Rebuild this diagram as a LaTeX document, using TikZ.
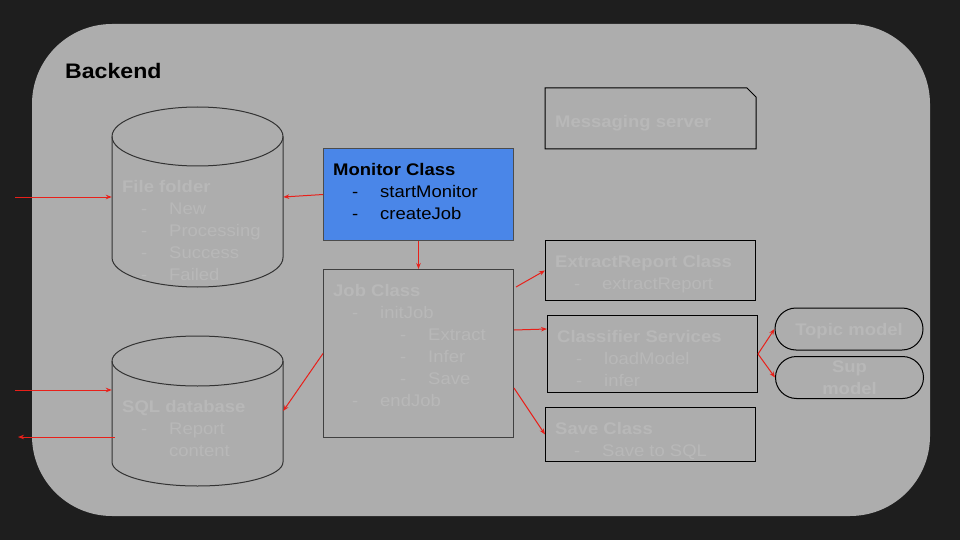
\documentclass[tikz,border=0pt]{standalone}
\usepackage{fontspec}
\setmainfont[FakeStretch=1.1]{Liberation Sans}
\usetikzlibrary{arrows.meta,calc}

\definecolor{slidebg}{HTML}{1E1E1E}
\definecolor{panel}{HTML}{ADADAD}
\definecolor{faint}{HTML}{B8B8B8}
\definecolor{monblue}{HTML}{4A86E8}
\definecolor{wirered}{HTML}{E8201A}

\newcommand{\bul}[1]{\hspace*{19pt}\makebox[28pt][l]{-}#1}
\newcommand{\subbul}[1]{\hspace*{67pt}\makebox[28pt][l]{-}#1}

\tikzset{
  box/.style={draw=black, line width=1pt, fill=panel, anchor=north west, inner sep=0pt},
  txt/.style={anchor=north west, inner sep=0pt, align=left, text=faint,
    font=\fontsize{16.8}{22}\selectfont},
  pill/.style={draw=black, line width=1pt, fill=panel, rounded corners=21pt,
    minimum width=148pt, minimum height=42pt, inner sep=0pt, align=center,
    text=faint, font=\bfseries\fontsize{16.8}{21.5}\selectfont},
  drum/.style={draw=black!80, line width=1pt, fill=panel},
  wire/.style={draw=wirered, line width=1pt, -{Stealth[length=6pt,width=4.5pt]}}
}

\begin{document}
\begin{tikzpicture}[x=1pt,y=-1pt]
  \useasboundingbox (0,0) rectangle (960,540);
  \fill[slidebg] (0,0) rectangle (960,540);
  \fill[panel, rounded corners=80pt] (32,24) rectangle (930,516);

  \node[anchor=north west, inner sep=0pt, font=\bfseries\fontsize{21}{24}\selectfont] (backend) at (65,63.3) {Backend};

  % storage
  \node[inner sep=0pt, minimum width=171pt, minimum height=180pt] (folder) at (197.5,197) {};
  \filldraw[drum] (112,136.5) -- (112,257.5) arc[start angle=180, end angle=0, x radius=85.5, y radius=29.5]
    -- (283,136.5) arc[start angle=0, end angle=-180, x radius=85.5, y radius=29.5] -- cycle;
  \draw[drum, fill=none] (112,136.5) arc[start angle=180, end angle=0, x radius=85.5, y radius=29.5];
  \node[txt] (foldertext) at (122,180.6) {\textbf{File folder}\\ \bul{New}\\ \bul{Processing}\\ \bul{Success}\\ \bul{Failed}};

  \node[inner sep=0pt, minimum width=171pt, minimum height=150pt] (sql) at (197.5,411) {};
  \filldraw[drum] (112,361) -- (112,462) arc[start angle=180, end angle=0, x radius=85.5, y radius=24]
    -- (283,361) arc[start angle=0, end angle=-180, x radius=85.5, y radius=25] -- cycle;
  \draw[drum, fill=none] (112,361) arc[start angle=180, end angle=0, x radius=85.5, y radius=25];
  \node[txt] (sqltext) at (122,400.6) {\textbf{SQL database}\\ \bul{Report}\\ \hspace*{47pt}content};

  % classes
  \node[box, fill=monblue, draw=black!70, minimum width=190pt, minimum height=92pt] (monitor) at (323,148) {};
  \node[txt, text=black] (monitortext) at ($(monitor.north west)+(10,15.5)$)
    {\textbf{Monitor Class}\\ \bul{startMonitor}\\ \bul{createJob}};

  \node[box, draw=black!75, minimum width=190pt, minimum height=168pt] (job) at (323,269) {};
  \node[txt] (jobtext) at ($(job.north west)+(10,15.5)$)
    {\textbf{Job Class}\\ \bul{initJob}\\ \subbul{Extract}\\ \subbul{Infer}\\ \subbul{Save}\\ \bul{endJob}};

  \node[box, draw=none, minimum width=210pt, minimum height=60pt] (msg) at (545,88) {};
  \draw[line width=1pt] (msg.north west) -- ($(msg.north east)+(-9,0)$) -- ($(msg.north east)+(0,9)$)
    -- (msg.south east) -- (msg.south west) -- cycle;
  \node[txt, font=\bfseries\fontsize{16.8}{22}\selectfont] (msgtext) at ($(msg.north west)+(10,27.6)$) {Messaging server};

  \node[box, minimum width=210pt, minimum height=60pt] (extract) at (545,240) {};
  \node[txt] (extracttext) at ($(extract.north west)+(10,15.5)$)
    {\textbf{ExtractReport Class}\\ \bul{extractReport}};

  \node[box, minimum width=210pt, minimum height=77pt] (classifier) at (547,315) {};
  \node[txt] (classifiertext) at ($(classifier.north west)+(10,15.5)$)
    {\textbf{Classifier Services}\\ \bul{loadModel}\\ \bul{infer}};

  \node[box, minimum width=210pt, minimum height=54pt] (save) at (545,407) {};
  \node[txt] (savetext) at ($(save.north west)+(10,15.5)$)
    {\textbf{Save Class}\\ \bul{Save to SQL}};

  \node[pill, text height=12pt, text depth=0pt] (topic) at (849,329) {Topic model};
  \node[pill] (sup) at (849.5,377.5) {Sup\\ model};

  % connectors
  \coordinate (in1) at (15,197);
  \coordinate (in2) at (15,390);
  \coordinate (out) at (18,437);

  \draw[wire] (in1) -- (folder.west);
  \draw[wire] (monitor.west) -- (folder.east);
  \draw[wire] (monitor.south) -- (job.north);
  \draw[wire] (job.west) -- (sql.east);
  \draw[wire] (in2) -- ($(sql.west)+(0,-21)$);
  \draw[wire] ($(sql.west)+(3,26)$) -- (out);
  \draw[wire] ($(job.north east)+(2,18)$) -- (extract.west);
  \draw[wire] ($(job.north east)+(0,61)$) -- ($(classifier.north west)+(0,14)$);
  \draw[wire] ($(job.north east)+(0,119)$) -- (save.west);
  \draw[wire] (classifier.east) -- (topic.west);
  \draw[wire] (classifier.east) -- (sup.west);
\end{tikzpicture}
\end{document}
